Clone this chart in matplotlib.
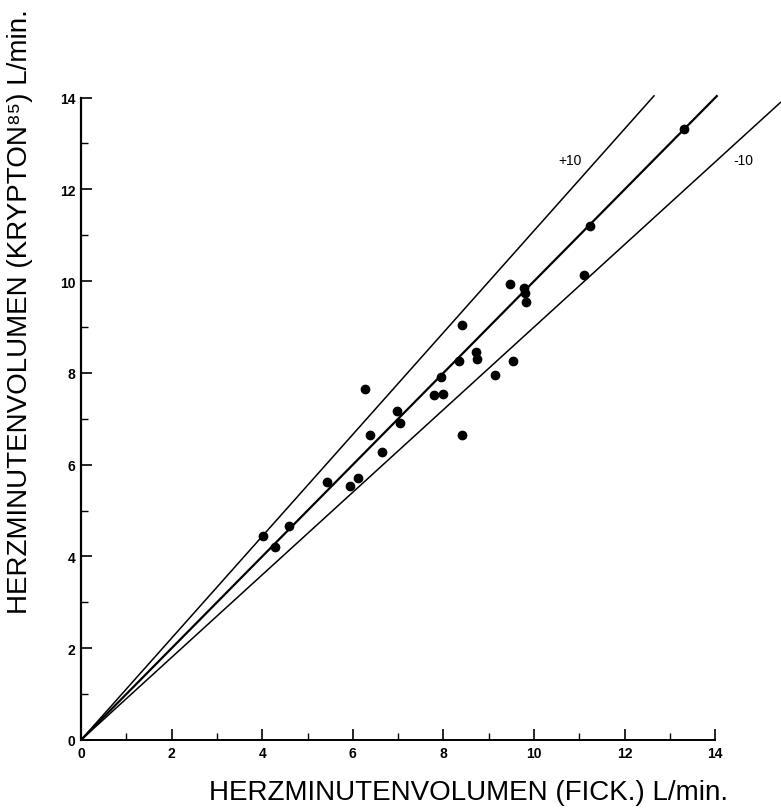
import matplotlib
matplotlib.use('Agg')
import matplotlib.pyplot as plt
import numpy as np

# Herzminutenvolumen: Fick (x) vs Krypton-85 (y), L/min
fick = [4.02, 4.28, 4.58, 5.42, 5.94, 6.12, 6.27, 6.38, 6.64, 6.98,
        7.03, 7.79, 8.00, 7.94, 8.34, 8.42, 8.42, 8.71, 8.73, 9.14,
        9.54, 9.46, 9.77, 9.81, 9.82, 11.10, 11.24, 13.30]
krypton = [4.45, 4.20, 4.67, 5.63, 5.54, 5.72, 7.65, 6.65, 6.28, 7.17,
           6.91, 7.52, 7.55, 7.92, 8.26, 9.04, 6.64, 8.45, 8.31, 7.96,
           8.26, 9.93, 9.84, 9.74, 9.55, 10.14, 11.20, 13.32]

# reference lines: identity and +/-10 %
line_slopes = [1.11, 1.0, 0.90]
line_widths = [1.1, 1.6, 1.1]
line_labels = ['+10', '-10']
label_pos = [(10.53, 12.64), (14.39, 12.64)]

ticks = [0, 2, 4, 6, 8, 10, 12, 14]
minor_ticks = [1, 3, 5, 7, 9, 11, 13]

xmax, ymax = 15.45, 14.1
font = ['Liberation Sans', 'DejaVu Sans']

fig = plt.figure(figsize=(7.81, 8.12), dpi=100)
ax = fig.add_axes([81 / 781, 71 / 812, 700 / 781, 647 / 812])

for s, lw in zip(line_slopes, line_widths):
    xe = min(xmax, 14.05 / s)
    ax.plot([0, xe], [0, s * xe], color='black', lw=lw, solid_capstyle='butt')

ax.plot(fick, krypton, 'o', color='black', markersize=6, mec='black')

for txt, (tx, ty) in zip(line_labels, label_pos):
    ax.text(tx, ty, txt, fontsize=10, va='center', ha='left', family=font)

ax.set_xlim(0, xmax)
ax.set_ylim(0, ymax)
ax.spines['top'].set_visible(False)
ax.spines['right'].set_visible(False)
ax.spines['left'].set_bounds(0, 14)
ax.spines['bottom'].set_bounds(0, 14)
ax.spines['left'].set_linewidth(1.6)
ax.spines['bottom'].set_linewidth(1.4)

ax.set_xticks(ticks)
ax.set_yticks(ticks)
ax.set_xticks(minor_ticks, minor=True)
ax.set_yticks(minor_ticks, minor=True)
ax.tick_params(which='major', direction='in', length=8, width=1.2, pad=4,
               labelsize=10)
ax.tick_params(which='minor', direction='in', length=5, width=1.0)
for lab in ax.get_xticklabels() + ax.get_yticklabels():
    lab.set_fontweight('bold')
    lab.set_family(font)

fig.text(468 / 781, 1 - 793 / 812, 'HERZMINUTENVOLUMEN (FICK.) L/min.',
         fontsize=20, ha='center', va='center', family=font)
fig.text(20 / 781, 1 - 312 / 812, 'HERZMINUTENVOLUMEN (KRYPTON\u2078\u2075) L/min.',
         fontsize=20, ha='center', va='center', rotation=90, family=font)

fig.savefig('out.png', dpi=100, facecolor='white')
